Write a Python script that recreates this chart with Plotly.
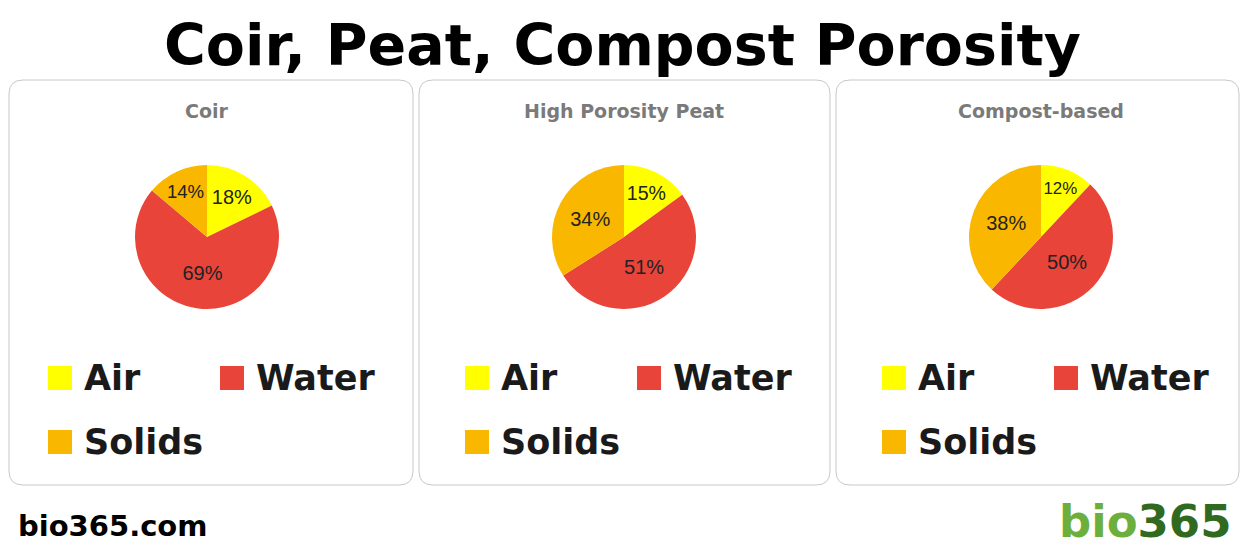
import plotly.graph_objects as go

titles = ["Coir", "High Porosity Peat", "Compost-based"]
labels = ["Air", "Water", "Solids"]
air = [18, 15, 12]
water = [69, 51, 50]
solids = [14, 34, 38]
colors = ["#FFFF00", "#E8443A", "#F9B700"]

# page has an 8px body margin; map window coords onto the figure
OFF = 8
W, H = 1248 - 2 * OFF, 550 - OFF
BOLD = "DejaVu Sans"
fig = go.Figure()
panels = [(2, 413), (419, 830), (836, 1246)]
shapes, ann = [], []

def rrect(x0, y0, x1, y1, r=14):
    return (f"M{x0+r},{y0} L{x1-r},{y0} Q{x1},{y0} {x1},{y0+r} L{x1},{y1-r} Q{x1},{y1} {x1-r},{y1} "
            f"L{x0+r},{y1} Q{x0},{y1} {x0},{y1-r} L{x0},{y0+r} Q{x0},{y0} {x0+r},{y0} Z")

for i, (x0, x1) in enumerate(panels):
    shapes.append(dict(type="path", path=rrect(max(x0, OFF + 1), 80, min(x1, 1239), 485), xref="x", yref="y",
                       line=dict(color="#C8C8C8", width=1), fillcolor="white", layer="below"))
    cx = x0 + 205
    r = 72
    fig.add_trace(go.Pie(values=[air[i], water[i], solids[i]], labels=labels, sort=False,
                         direction="clockwise", rotation=0,
                         marker=dict(colors=colors, line=dict(width=0)),
                         texttemplate="%{value}%", textposition="inside",
                         insidetextorientation="horizontal",
                         textfont=dict(size=20, color="#222", family="Liberation Sans"),
                         domain=dict(x=[(cx - r - OFF) / W, (cx + r - OFF) / W],
                                     y=[1 - (237 + r - OFF) / H, 1 - (237 - r - OFF) / H]),
                         showlegend=False, hoverinfo="label+value"))
    ann.append(dict(x=cx, y=111, xref="x", yref="y", text=f"<b>{titles[i]}</b>", showarrow=False,
                    font=dict(size=19, color="#7A7A7A", family=BOLD)))
    items = [(0, x0 + 46, 378), (1, x0 + 218, 378), (2, x0 + 46, 442)]
    for k, lx, ly in items:
        shapes.append(dict(type="rect", x0=lx, x1=lx + 24, y0=ly - 12, y1=ly + 12, xref="x", yref="y",
                           fillcolor=colors[k], line=dict(width=0)))
        ann.append(dict(x=lx + 34, y=ly, xref="x", yref="y", text=f"<b>{labels[k]}</b>", showarrow=False,
                        xanchor="left", font=dict(size=35, color="#1A1A1A", family=BOLD)))

ann.append(dict(x=622, y=45, xref="x", yref="y", text="<b>Coir, Peat, Compost Porosity</b>", showarrow=False,
                font=dict(size=57, color="black", family=BOLD)))
ann.append(dict(x=16, y=526, xref="x", yref="y", text="<b>bio365.com</b>", showarrow=False, xanchor="left",
                font=dict(size=29, color="black", family=BOLD)))
ann.append(dict(x=1234, y=521, xref="x", yref="y",
                text="<b><span style='color:#6DAF3C'>bio</span><span style='color:#2F6A20'>365</span></b>",
                showarrow=False, xanchor="right", font=dict(size=45, family=BOLD)))

fig.update_layout(width=W, height=H, margin=dict(l=0, r=0, t=0, b=0), paper_bgcolor="white",
                  plot_bgcolor="white", shapes=shapes, annotations=ann,
                  xaxis=dict(range=[OFF, OFF + W], visible=False, fixedrange=True),
                  yaxis=dict(range=[OFF + H, OFF], visible=False, fixedrange=True))
fig.write_html("out.html")
